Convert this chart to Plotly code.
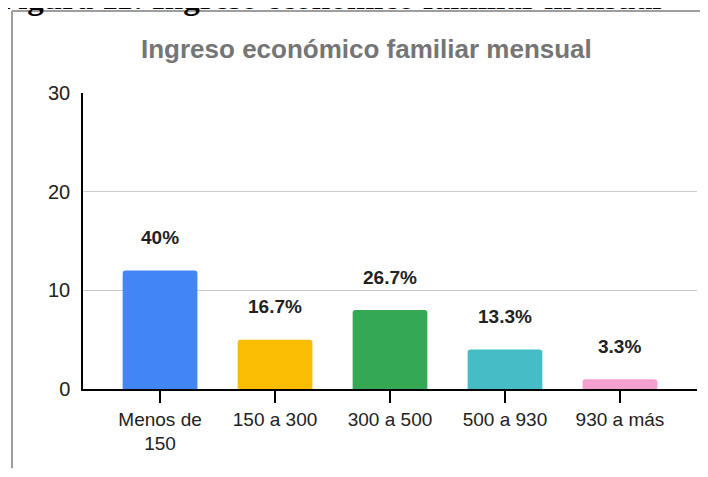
import plotly.graph_objects as go

# Datos (n = 30)
categorias = ["Menos de<br>150", "150 a 300", "300 a 500", "500 a 930", "930 a más"]
frecuencias = [12, 5, 8, 4, 1]
colores = ["#4285F4", "#FBBC04", "#34A853", "#46BDC6", "#F4A0CF"]
y_ticks = [0, 10, 20, 30]

total = sum(frecuencias)
porcentajes = [f"{v / total * 100:.1f}".rstrip("0").rstrip(".") + "%" for v in frecuencias]
posiciones = list(range(len(categorias)))

FONT = "Liberation Sans, Arial, sans-serif"

fig = go.Figure()

fig.add_trace(
    go.Bar(
        x=posiciones,
        y=frecuencias,
        width=0.65,
        marker=dict(color=colores, line=dict(width=0), cornerradius=3),
        hoverinfo="skip",
        showlegend=False,
    )
)

# etiquetas de porcentaje sobre cada barra
for x, v, txt in zip(posiciones, frecuencias, porcentajes):
    fig.add_annotation(
        x=x, y=v, text=f"<b>{txt}</b>", showarrow=False,
        yanchor="middle", yshift=33,
        font=dict(family=FONT, size=19, color="#222222"),
    )

# titulo del grafico
fig.add_annotation(
    xref="paper", yref="paper", x=0.461, y=1.149,
    text="<b>Ingreso económico familiar mensual</b>", showarrow=False,
    xanchor="center", yanchor="middle",
    font=dict(family=FONT, size=26, color="#757575"),
)

# pie de figura del documento (recortado arriba)
fig.add_annotation(
    xref="paper", yref="paper", x=0.402, y=1.253,
    text="<b>Figura 11: Ingreso económico familiar mensual</b>", showarrow=False,
    xanchor="center", yanchor="bottom",
    font=dict(family="Liberation Serif, Times New Roman, serif", size=33, color="#000000"),
)

# marco gris del grafico (solo lados izquierdo y superior quedan a la vista)
# se mantiene dentro de la ventana para que no aparezcan barras de desplazamiento
marco = dict(color="#9E9E9E", width=2)
fig.add_shape(type="line", xref="paper", yref="paper",
              x0=-0.1156, x1=1.015, y0=1.277, y1=1.277, line=marco)
fig.add_shape(type="line", xref="paper", yref="paper",
              x0=-0.1156, x1=-0.1156, y0=-0.268, y1=1.277, line=marco)

rango_x = [-0.67, len(categorias) - 1 + 0.67]

# la pagina tiene 8 px de margen propio: figura mas chica para no desbordar
fig.update_layout(
    width=692,
    height=461,
    margin=dict(l=75, r=3, t=85, b=80),
    paper_bgcolor="white",
    plot_bgcolor="white",
    xaxis=dict(
        range=rango_x,
        tickvals=posiciones,
        ticktext=categorias,
        ticks="outside",
        ticklen=12,
        tickwidth=1.5,
        tickcolor="#000000",
        showline=True,
        linecolor="#000000",
        linewidth=1.5,
        showgrid=False,
        zeroline=False,
        tickfont=dict(family=FONT, size=19, color="#222222"),
    ),
    xaxis2=dict(
        overlaying="x",
        anchor="y",
        side="bottom",
        range=rango_x,
        tickvals=posiciones,
        ticks="inside",
        ticklen=11,
        tickwidth=1.5,
        tickcolor="#000000",
        showticklabels=False,
        showline=False,
        showgrid=False,
        zeroline=False,
    ),
    yaxis=dict(
        range=[0, 30],
        tickvals=y_ticks,
        showline=True,
        linecolor="#000000",
        linewidth=1.5,
        showgrid=True,
        gridcolor="#CCCCCC",
        gridwidth=1,
        zeroline=False,
        ticks="",
        ticklabelstandoff=7,
        tickfont=dict(family=FONT, size=20, color="#222222"),
    ),
)

fig.write_html("out.html")
